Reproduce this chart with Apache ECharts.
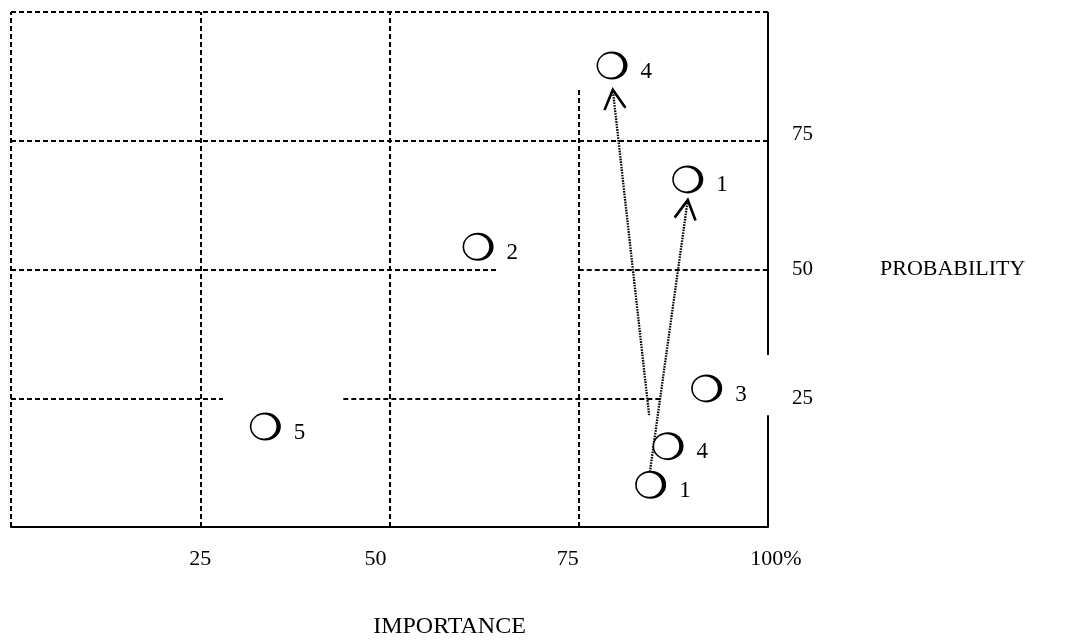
<!DOCTYPE html>
<html>
<head>
<meta charset="utf-8">
<script src="https://cdn.jsdelivr.net/npm/echarts@6/dist/echarts.min.js"></script>
<style>html,body{margin:0;padding:0;background:#fff}#c{width:1083px;height:642px}</style>
</head>
<body>
<div id="c"></div>
<script>
// ---- data ----
const pointLabels = ['4', '1', '2', '3', '5', '4', '1'];
const importance  = [79.4, 89.4, 61.7, 91.9, 33.6, 86.8, 84.5];
const probability = [89.6, 67.5, 54.4, 26.9, 19.5, 15.7, 8.2];
const xTickValues = [25, 50, 75, 100];
const xTickLabels = ['25', '50', '75', '100%'];
const yTickValues = [25, 50, 75];
const yTickLabels = ['25', '50', '75'];
const arrowFromX = [84.3, 84.4];
const arrowFromY = [21.7, 10.7];
const arrowToX   = [79.5, 89.4];
const arrowToY   = [84.9, 63.5];
// dashed grid segments (data units): [x1, y1, x2, y2]
const dashedSegments = [
  [0, 100, 100, 100], [0, 0, 0, 100],
  [25, 0, 25, 100], [50, 0, 50, 100], [75, 0, 75, 85.2],
  [0, 75, 100, 75],
  [0, 50, 64.2, 50], [75, 50, 100, 50],
  [0, 25, 28.0, 25], [43.9, 25, 86.1, 25]
];
const solidSegments = [
  [100, 100, 100, 33.4], [100, 21.7, 100, 0]
];

const serif = 'Liberation Serif, Times New Roman, serif';
const chart = echarts.init(document.getElementById('c'), null, {renderer: 'canvas'});

const segData = s => s.map(d => ({coords: [[d[0], d[1]], [d[2], d[3]]]}));
const pts = importance.map((x, i) => [x, probability[i], pointLabels[i]]);
// label styles (scan has the tick labels slightly off their grid lines)
const xRichKey = ['c', 'l14', 'l11', 'r8'];
const yRichKey = ['c', 'c', 'up'];

chart.setOption({
  animation: false,
  backgroundColor: '#fff',
  grid: {left: 11, right: 315, top: 12, bottom: 115, containLabel: false, outerBoundsMode: 'none'},
  xAxis: {
    type: 'value', min: 0, max: 100, interval: 25,
    name: 'IMPORTANCE', nameLocation: 'middle', nameGap: 88,
    nameTextStyle: {fontFamily: serif, fontSize: 24, color: '#000', padding: [0, 0, 0, 120]},
    axisLine: {show: true, lineStyle: {color: '#000', width: 2}},
    axisTick: {show: false}, splitLine: {show: false},
    axisLabel: {
      margin: 21, fontFamily: serif, fontSize: 22, color: '#000',
      formatter: v => { const i = xTickValues.indexOf(v); return i >= 0 ? '{' + xRichKey[i] + '|' + xTickLabels[i] + '}' : ''; },
      rich: {
        c:   {fontFamily: serif, fontSize: 22, color: '#000'},
        l14: {fontFamily: serif, fontSize: 22, color: '#000', padding: [0, 28, 0, 0]},
        l11: {fontFamily: serif, fontSize: 22, color: '#000', padding: [0, 22, 0, 0]},
        r8:  {fontFamily: serif, fontSize: 22, color: '#000', padding: [0, 0, 0, 16]}
      }
    }
  },
  yAxis: {
    type: 'value', min: 0, max: 100, interval: 25, position: 'right',
    name: 'PROBABILITY', nameLocation: 'middle', nameRotate: 0, nameGap: 112,
    nameTextStyle: {fontFamily: serif, fontSize: 22, color: '#000', align: 'left'},
    axisLine: {show: false}, axisTick: {show: false}, splitLine: {show: false},
    axisLabel: {
      margin: 24, fontFamily: serif, fontSize: 21, color: '#000',
      formatter: v => { const i = yTickValues.indexOf(v); return i >= 0 ? '{' + yRichKey[i] + '|' + yTickLabels[i] + '}' : ''; },
      rich: {
        c:  {fontFamily: serif, fontSize: 21, color: '#000'},
        up: {fontFamily: serif, fontSize: 21, color: '#000', padding: [0, 0, 12, 0]}
      }
    }
  },
  series: [
    {
      type: 'lines', coordinateSystem: 'cartesian2d', silent: true,
      lineStyle: {color: '#000', width: 2, type: [5, 3], opacity: 1},
      data: segData(dashedSegments), z: 1
    },
    {
      type: 'lines', coordinateSystem: 'cartesian2d', silent: true,
      lineStyle: {color: '#000', width: 2, type: 'solid', opacity: 1},
      data: segData(solidSegments), z: 1
    },
    {
      type: 'custom', silent: true, z: 3,
      data: arrowFromX.map((x, i) => [x, arrowFromY[i], arrowToX[i], arrowToY[i]]),
      renderItem: function (params, api) {
        const p0 = api.coord([api.value(0), api.value(1)]);
        const p1 = api.coord([api.value(2), api.value(3)]);
        const ang = Math.atan2(p0[1] - p1[1], p0[0] - p1[0]);
        const L = 22, spread = 0.5;
        const a1 = [p1[0] + L * Math.cos(ang - spread), p1[1] + L * Math.sin(ang - spread)];
        const a2 = [p1[0] + L * Math.cos(ang + spread), p1[1] + L * Math.sin(ang + spread)];
        return {
          type: 'group',
          children: [
            {type: 'line', shape: {x1: p0[0], y1: p0[1], x2: p1[0], y2: p1[1]},
             style: {stroke: '#000', lineWidth: 2.3, lineDash: [1.6, 1.1]}},
            {type: 'polyline', shape: {points: [a1, p1, a2]},
             style: {stroke: '#000', lineWidth: 2.6, fill: null}}
          ]
        };
      }
    },
    {
      // outer (black) ellipse of each marker
      type: 'scatter', z: 5, silent: true,
      data: pts,
      symbol: 'circle', symbolSize: [31, 28],
      itemStyle: {color: '#000', opacity: 1},
      label: {
        show: true, position: 'right', distance: 13, offset: [0, 6],
        fontFamily: serif, fontSize: 23, color: '#000',
        formatter: p => p.data[2]
      },
      emphasis: {disabled: true}
    },
    {
      // inner (white) ellipse, shifted left so the right side of the ring is thicker
      type: 'scatter', z: 6, silent: true,
      data: pts,
      symbol: 'circle', symbolSize: [25, 24], symbolOffset: [-1.4, 0],
      itemStyle: {color: '#fff', opacity: 1},
      emphasis: {disabled: true}
    }
  ]
});
</script>
</body>
</html>
